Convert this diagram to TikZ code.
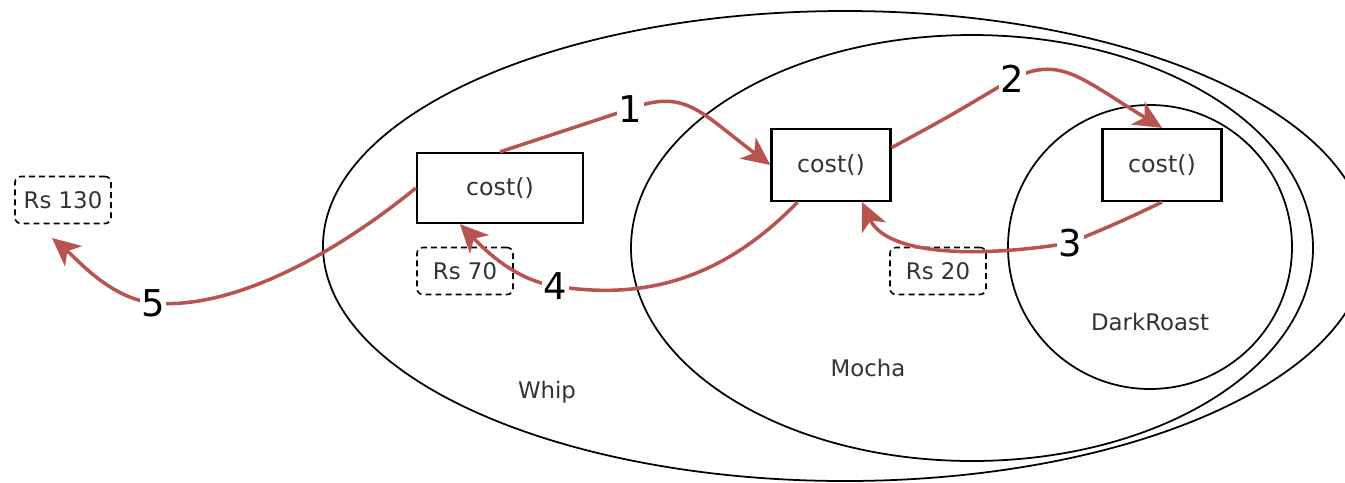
\documentclass[tikz,border=0pt]{standalone}
\usepackage{fontspec}
\usepackage{xcolor}
\usetikzlibrary{arrows.meta,positioning}
\setmainfont{DejaVu Sans}
\definecolor{flowred}{HTML}{B85450}
\definecolor{labelgray}{HTML}{333333}

\begin{document}
\begin{tikzpicture}[
    x=0.2mm, y=-0.2mm,
    ring/.style={draw, line width=1pt},
    costbox/.style={rectangle, draw, line width=1.3pt, minimum width=23.8mm, minimum height=14.4mm, font=\fontsize{13.5}{16}\selectfont, text=labelgray},
    pricebox/.style={rectangle, draw, line width=0.9pt, dash pattern=on 3.4pt off 2.3pt, rounded corners=1.2mm, minimum width=19.2mm, minimum height=9.4mm, font=\fontsize{13}{16}\selectfont, text=labelgray},
    layer/.style={font=\fontsize{13}{16}\selectfont, text=labelgray},
    num/.style={fill=white, inner sep=1pt, text=black, font=\fontsize{21}{24}\selectfont},
    flow/.style={-{Stealth[length=16pt, width=15pt, inset=4.5pt]}, line width=2pt, draw=flowred, color=flowred}
]
\clip (0,0) rectangle (1345,482);

% Decorator rings
\draw[ring] (845,246) ellipse [x radius=522, y radius=235];
\draw[ring] (972,248) ellipse [x radius=341, y radius=213];
\draw[ring] (1150,247) circle [radius=142];

\node[layer] (whiplbl) at (547,392) {Whip};
\node[layer] (mochalbl) at (868,368) {Mocha};
\node[layer] (darklbl) at (1150,322) {DarkRoast};

% cost() boxes
\node[costbox, minimum width=33.2mm, minimum height=14mm] (whip) at (500,188) {cost()};
\node[costbox] (mocha) at (831,165) {cost()};
\node[costbox] (dark) at (1162,165) {cost()};

% Returned prices
\node[pricebox] (rs130) at (63,200) {Rs 130};
\node[pricebox] (rs70) at (465,271) {Rs 70};
\node[pricebox] (rs20) at (938,271) {Rs 20};
\coordinate (ret) at (52,238);

% Calls
\draw[flow] (whip.north) .. controls (565,130) .. (630,109) node[num] {1}
    .. controls (685,88) and (700,112) .. (mocha.west);
\draw[flow] (mocha.16) .. controls (950,116) .. (1012,79) node[num] {2}
    .. controls (1060,55) and (1080,78) .. (dark.north);

% Returns
\draw[flow] (dark.south) .. controls (1120,222) .. (1070,243) node[num] {3}
    .. controls (965,260) and (885,252) .. (mocha.-50);
\draw[flow] (mocha.-132) .. controls (720,282) and (640,300) .. (555,286) node[num] {4}
    .. controls (515,280) and (485,250) .. (whip.-138);
\draw[flow] (whip.west) .. controls (330,258) and (230,310) .. (153,303) node[num] {5}
    .. controls (110,298) and (78,260) .. (ret);
\end{tikzpicture}
\end{document}
